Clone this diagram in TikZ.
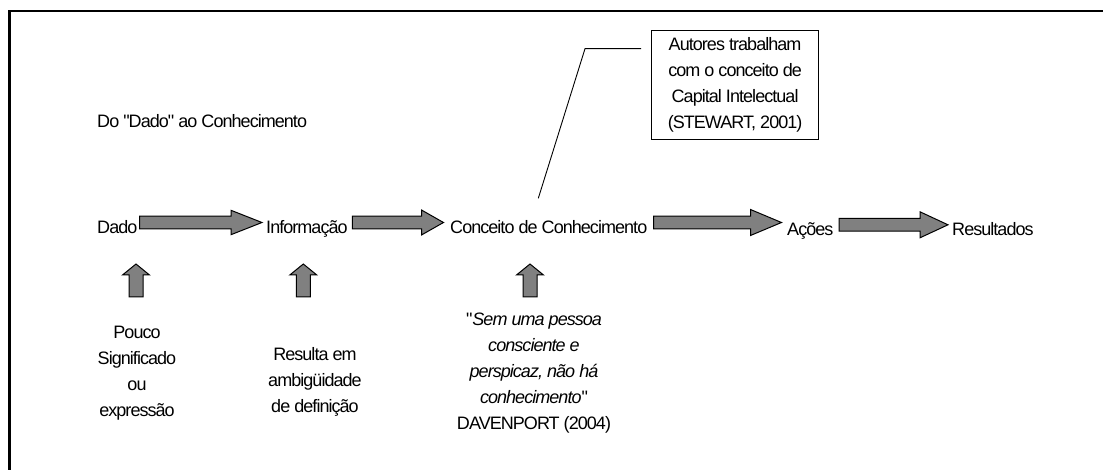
\documentclass[tikz,border=0pt]{standalone}
\usepackage{fontspec}
\setmainfont{Liberation Sans}[LetterSpace=-5.3, Ligatures=TeXOff]
\usetikzlibrary{calc}

\definecolor{arrowgray}{RGB}{128,128,128}

% horizontal block arrow: from, to, shaft half height, head half height, head length
\newcommand\fatarrow[5]{%
  \draw[fat] let \p1=(#1), \p2=(#2) in
    (\x1,\y1+#3) -- (\x2-#5,\y1+#3) -- (\x2-#5,\y1+#4) -- (\x2,\y1)
    -- (\x2-#5,\y1-#4) -- (\x2-#5,\y1-#3) -- (\x1,\y1-#3) -- cycle;}

% upward block arrow standing on a coordinate
\newcommand\uparrowblock[1]{%
  \draw[fat] let \p1=(#1) in
    (\x1-7pt,\y1) -- (\x1-7pt,\y1+22pt) -- (\x1-13.5pt,\y1+22pt) -- (\x1,\y1+33pt)
    -- (\x1+13.5pt,\y1+22pt) -- (\x1+7pt,\y1+22pt) -- (\x1+7pt,\y1) -- cycle;}

\begin{document}
\begin{tikzpicture}[x=1pt,y=-1pt,
  txt/.style={inner sep=0pt, font=\fontsize{18}{26}\selectfont},
  stage/.style={txt, text height=13pt, text depth=4pt, anchor=base west},
  note/.style={txt, align=center, anchor=north},
  fat/.style={draw=black, fill=arrowgray, line width=1pt, line join=miter},
  thin/.style={draw=black, line width=0.9pt}]

\useasboundingbox (0,0) rectangle (1103,470);

% frame
\draw[line width=2.4pt, line join=miter] (9.5,471) -- (9.5,11.2) -- (1104,11.2);

% heading
\node[txt, anchor=base west] (title) at (97,127.3) {Do "Dado" ao Conhecimento};

% chain of stages
\node[stage] (dado)   at (97,233.5)  {Dado};
\node[stage] (info)   at (266,233.5) {Informação};
\node[stage] (conc)   at (450,233.5) {Conceito de Conhecimento};
\node[stage] (acoes)  at (787,235.8) {Ações};
\node[stage] (result) at (952,235.8) {Resultados};

\coordinate (a1s) at ($(dado.east)+(2,-6.5)$);
\coordinate (a1e) at ($(info.west)+(-4,-6.5)$);
\coordinate (a2s) at ($(info.east)+(4.5,-6.5)$);
\coordinate (a2e) at ($(conc.west)+(-6.5,-6.5)$);
\coordinate (a3s) at ($(conc.east)+(6,-6.5)$);
\coordinate (a3e) at ($(acoes.west)+(-5.5,-6.5)$);
\coordinate (a4s) at ($(acoes.east)+(5.5,-6.5)$);
\coordinate (a4e) at ($(result.west)+(-4,-6.5)$);

\fatarrow{a1s}{a1e}{6.3pt}{12.2pt}{31pt}
\fatarrow{a2s}{a2e}{6.3pt}{12.5pt}{22pt}
\fatarrow{a3s}{a3e}{6.3pt}{13pt}{31pt}
\fatarrow{a4s}{a4e}{6.3pt}{13pt}{28pt}

% remarks under the stages
\node[note] (n1) at (137,326)
  {\fontsize{18}{24.5}\selectfont Pouco\\Significado\\ou\\expressão};
\node[note] (n2) at (315,347)
  {\fontsize{18}{24.5}\selectfont Resulta em\\ambigüidade\\de definição};
\node[note] (n3) at (534,312.7)
  {\fontsize{18}{26.25}\selectfont "{\itshape Sem uma pessoa}\\{\itshape consciente e}\\{\itshape perspicaz, não há}\\{\itshape conhecimento}"\\DAVENPORT (2004)};

\coordinate (u1) at (136,297);
\coordinate (u2) at (303.3,297);
\coordinate (u3) at (530,297);
\uparrowblock{u1}
\uparrowblock{u2}
\uparrowblock{u3}

% callout
\node[thin, draw, txt, align=center, minimum width=167, minimum height=109.3]
  (box) at (735.1,84.65)
  {\fontsize{18}{26.5}\selectfont Autores trabalham\\com o conceito de\\Capital Intelectual\\(STEWART, 2001)};
\coordinate (ctip) at (538.3,198.3);
\coordinate (cknee) at (585,48.7);
\coordinate (cend) at ($(box.west)+(-10,0)$);
\draw[thin] (ctip) -- (cknee) -- (cknee -| cend);
\end{tikzpicture}
\end{document}
